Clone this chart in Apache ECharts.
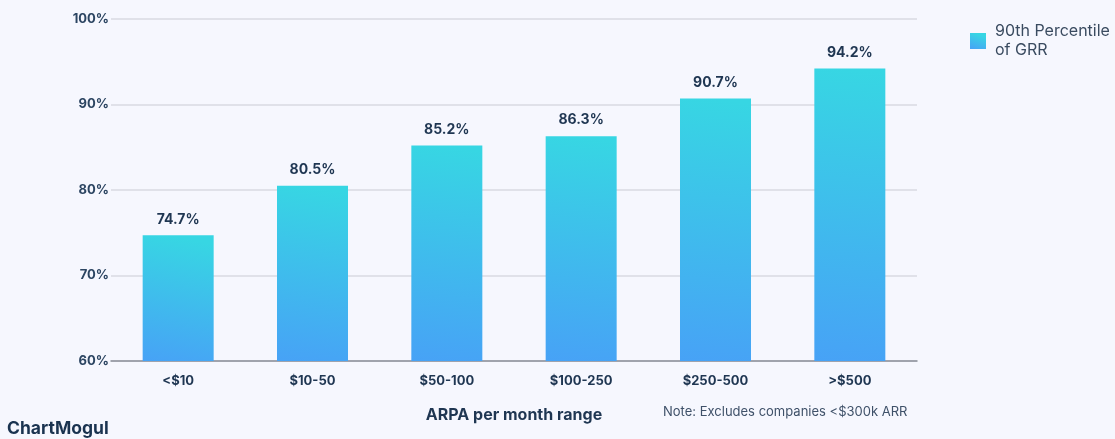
<!DOCTYPE html>
<html lang="en">
  <head>
    <meta charset="UTF-8" />
    <title>GRR by ARPA</title>
    <style>
      html, body { margin: 0; padding: 0; background: #f6f7fe; }
      #main { width: 1115px; height: 439px; }
    </style>
  </head>
  <body>
    <div id="main"></div>
    <script src="https://cdn.jsdelivr.net/npm/echarts@6/dist/echarts.min.js"></script>
    <script>
      // data
      var categories = ["<$10", "$10-50", "$50-100", "$100-250", "$250-500", ">$500"];
      var grr90 = [74.7, 80.5, 85.2, 86.3, 90.7, 94.2];
      var yTicks = { min: 60, max: 100, step: 10 };

      var font = "Inter, 'Noto Sans', sans-serif";
      var navy = "#1f3652";

      var barColor = new echarts.graphic.LinearGradient(0, 1, 0.35, 0, [
        { offset: 0, color: "#47a2f6" },
        { offset: 1, color: "#37d6e3" },
      ]);

      var myChart = echarts.init(document.getElementById("main"), null, {
        width: 1115,
        height: 439,
      });

      var option = {
        backgroundColor: "#f6f7fe",
        textStyle: { fontFamily: font },
        grid: { left: 111, right: 198, top: 19, bottom: 78 },
        legend: {
          left: 965,
          top: 17,
          orient: "vertical",
          itemWidth: 16,
          itemHeight: 16,
          itemGap: 6,
          icon: "rect",
          textStyle: {
            fontFamily: font,
            fontSize: 16,
            color: "#3a4b60",
            lineHeight: 19,
            padding: [0, 0, 0, 4],
          },
          data: [{ name: "90th Percentile\nof GRR", itemStyle: { color: barColor } }],
        },
        xAxis: {
          type: "category",
          data: categories,
          axisLine: { lineStyle: { color: "#8a8f99", width: 1.5 } },
          axisTick: { alignWithLabel: true, length: 5, lineStyle: { color: "#8a8f99" } },
          axisLabel: { color: navy, fontWeight: "bold", fontSize: 13, margin: 14, fontFamily: font },
          name: "ARPA per month range",
          nameLocation: "middle",
          nameGap: 46,
          nameTextStyle: { color: navy, fontWeight: "bold", fontSize: 16, fontFamily: font },
        },
        yAxis: {
          type: "value",
          min: yTicks.min,
          max: yTicks.max,
          interval: yTicks.step,
          axisLine: { show: false },
          axisTick: { show: false },
          splitLine: { lineStyle: { color: "#d9dae2", width: 1.5 } },
          axisLabel: {
            color: "#2c4562",
            fontWeight: "bold",
            fontSize: 13,
            margin: 2,
            fontFamily: font,
            formatter: "{value}%",
          },
        },
        series: [
          {
            name: "90th Percentile\nof GRR",
            type: "bar",
            data: grr90,
            barWidth: 71,
            itemStyle: { color: barColor },
            label: {
              show: true,
              position: "top",
              distance: 9,
              color: navy,
              fontWeight: "bold",
              fontSize: 14,
              fontFamily: font,
              formatter: function (p) {
                return p.value.toFixed(1) + "%";
              },
            },
          },
        ],
        graphic: [
          {
            type: "text",
            left: 663,
            top: 406,
            style: {
              text: "Note: Excludes companies <$300k ARR",
              fill: "#3f5169",
              font: "13px " + font,
            },
          },
          {
            type: "text",
            left: 7,
            top: 420,
            style: {
              text: "ChartMogul",
              fill: "#1a3350",
              font: "bold 17.5px " + font,
            },
          },
        ],
      };

      myChart.setOption(option);
    </script>
  </body>
</html>
